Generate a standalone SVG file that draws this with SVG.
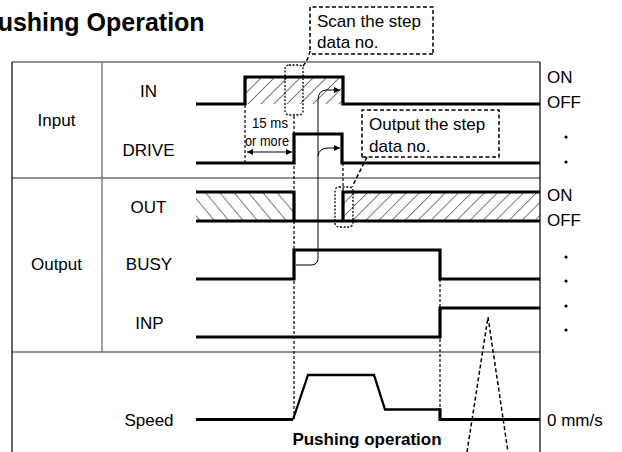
<svg xmlns="http://www.w3.org/2000/svg" width="622" height="452" viewBox="0 0 622 452">
<defs>
<pattern id="hf" patternUnits="userSpaceOnUse" width="9.2" height="9.2" patternTransform="rotate(45)">
<line x1="0" y1="0" x2="0" y2="9.2" stroke="#000" stroke-width="1"/>
</pattern>
<pattern id="hb" patternUnits="userSpaceOnUse" width="11" height="11" patternTransform="rotate(-40)">
<line x1="0" y1="0" x2="0" y2="11" stroke="#000" stroke-width="1"/>
</pattern>
<marker id="ah" viewBox="0 0 10 10" refX="10" refY="5" markerWidth="8" markerHeight="6" markerUnits="userSpaceOnUse" orient="auto-start-reverse">
<path d="M0,0 L10,5 L0,10 z" fill="#000"/>
</marker>
</defs>
<style>
text{font-family:"Liberation Sans",Arial,sans-serif;fill:#000}
.lbl{font-size:17px}
.mid{text-anchor:middle}
.grid{stroke:#6e6e6e;stroke-width:1.3;fill:none}
.bord{stroke:#000;stroke-width:1.2;fill:none}
.sig{stroke:#000;stroke-width:3.2;fill:none;stroke-linejoin:miter}
.dv{stroke:#000;stroke-width:1.2;fill:none;stroke-dasharray:3,2}
.callout{stroke:#000;stroke-width:1.5;fill:none;stroke-dasharray:4,2.5}
.dot{stroke:#000;stroke-width:1.3;fill:none;stroke-dasharray:2,1.6}
.thin{stroke:#000;stroke-width:1;fill:none}
</style>

<text x="-19" y="31" style="font-size:25px;font-weight:bold">Pushing Operation</text>

<g id="table">
<line class="grid" x1="12" y1="62" x2="540" y2="62"/>
<line class="grid" x1="12" y1="178" x2="540" y2="178"/>
<line class="grid" x1="12" y1="352" x2="540" y2="352"/>
<line class="grid" x1="102" y1="62" x2="102" y2="352"/>
<line class="bord" x1="12" y1="62" x2="12" y2="452"/>
<line class="bord" x1="540" y1="62" x2="540" y2="452"/>
<text class="lbl mid" x="56.5" y="126">Input</text>
<text class="lbl mid" x="56.5" y="270">Output</text>
</g>

<g id="labels">
<text class="lbl mid" x="148.5" y="97">IN</text>
<text class="lbl mid" x="148.5" y="156">DRIVE</text>
<text class="lbl mid" x="148.5" y="213">OUT</text>
<text class="lbl mid" x="149" y="270">BUSY</text>
<text class="lbl mid" x="149.5" y="329">INP</text>
<text class="lbl mid" x="149" y="426">Speed</text>
<text class="lbl" x="547" y="83">ON</text>
<text class="lbl" x="547" y="108">OFF</text>
<text class="lbl" x="547" y="201">ON</text>
<text class="lbl" x="547" y="226">OFF</text>
<text class="lbl" x="547" y="426">0 mm/s</text>
<circle cx="566" cy="137" r="1.6"/>
<circle cx="566" cy="162" r="1.6"/>
<circle cx="566" cy="257" r="1.6"/>
<circle cx="566" cy="281" r="1.6"/>
<circle cx="566" cy="306" r="1.6"/>
<circle cx="566" cy="330" r="1.6"/>
</g>

<g id="signals">
<rect x="245" y="77" width="98" height="27" fill="url(#hf)"/>
<rect x="196" y="192" width="98" height="29" fill="url(#hb)"/>
<rect x="343" y="192" width="197" height="29" fill="url(#hf)"/>
<path id="sig-in" class="sig" d="M196,104 H245 V77 H343 V104 H540"/>
<path id="sig-drive" class="sig" d="M196,163 H294 V134 H342 V163 H540"/>
<path id="sig-out" class="sig" d="M196,192 H294 V221 H196 M294,221 H343 V192 H540 M343,221 H540"/>
<path id="sig-busy" class="sig" d="M196,279 H294 V250 H440 V279 H540"/>
<path id="sig-inp" class="sig" d="M196,337 H440 V308 H540"/>
<path id="sig-speed-base" class="sig" d="M196,419.5 H293 M440,408.5 V419.5 H540"/>
<path id="sig-speed" class="sig" style="stroke-width:2.3" d="M293,419.5 L308,375 H374 L385,409.5 H441"/>
</g>

<g id="connectors">
<line class="dv" x1="245" y1="105" x2="245" y2="163"/>
<line class="dv" x1="294" y1="116" x2="294" y2="419"/>
<line class="dv" x1="343" y1="163" x2="343" y2="192"/>
<line class="dv" x1="440" y1="279" x2="440" y2="410"/>
<line class="thin" x1="247" y1="152" x2="292" y2="152" marker-start="url(#ah)" marker-end="url(#ah)"/>
<path class="thin" d="M296,265 H311 Q318,265 318,258 V100 Q318,90 327,90 H340" marker-end="url(#ah)"/>
<path class="thin" d="M318,156 Q319,148 328,148 H340" marker-end="url(#ah)"/>
<path class="callout" d="M467,452 L488,317 L508,452"/>
</g>

<g id="callout-scan">
<rect class="dot" x="285" y="65" width="18" height="50" rx="4"/>
<path class="callout" d="M433,54 H311 M310,50 V7 H433 V54 M310,51 Q309,58 303,66"/>
<text class="lbl" x="317" y="27">Scan the step</text>
<text class="lbl" x="317" y="48">data no.</text>
</g>

<g id="callout-output">
<rect class="dot" x="335" y="187" width="18" height="40" rx="4"/>
<path class="callout" d="M362,157 V110 H499 V157 H362 M367,157 L352,187"/>
<text class="lbl" x="369" y="130">Output the step</text>
<text class="lbl" x="369" y="152">data no.</text>
</g>

<g id="fifteen">
<text x="270" y="128" class="mid" style="font-size:15px" textLength="36" lengthAdjust="spacingAndGlyphs">15 ms</text>
<text x="267" y="146" class="mid" style="font-size:15px" textLength="44" lengthAdjust="spacingAndGlyphs">or more</text>
</g>

<text x="367" y="445" class="mid" style="font-size:17px;font-weight:bold">Pushing operation</text>
</svg>
